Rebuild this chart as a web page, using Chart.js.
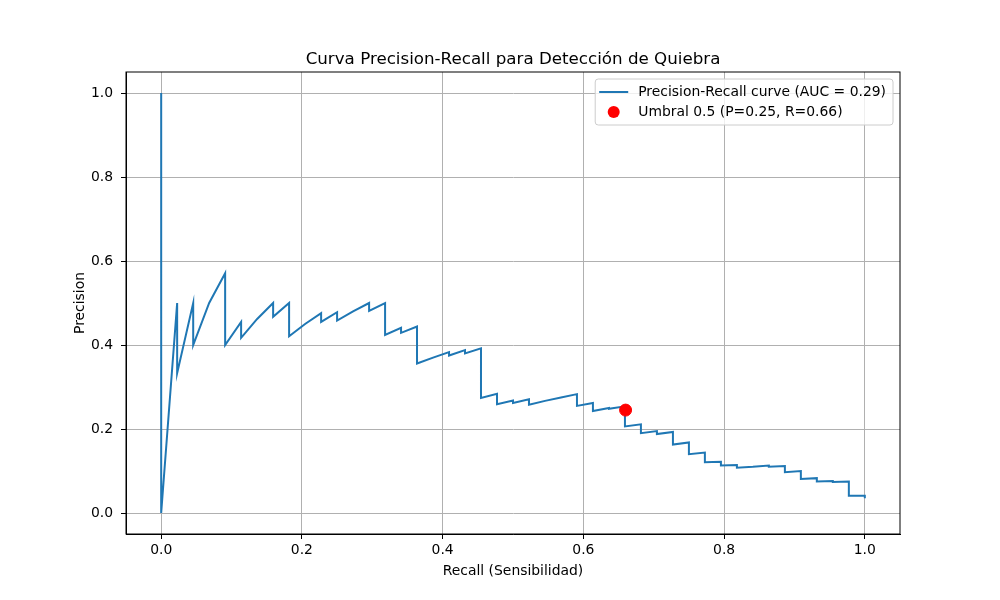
<!DOCTYPE html>
<html>
<head>
<meta charset="utf-8">
<script src="https://cdn.jsdelivr.net/npm/chart.js@4.4.0/dist/chart.umd.min.js"></script>
<style>
  html, body { margin: 0; padding: 0; background: #fff; }
  #wrap { width: 1000px; height: 600px; }
</style>
</head>
<body>
<div id="wrap"><canvas id="prChart" width="1000" height="600"></canvas></div>
<script>
// valores (recall, precision) en orden de recall creciente
const recall = [
  0, 0, 0.0227, 0.0227, 0.0455, 0.0455, 0.0682, 0.0909, 0.0909, 0.1136,
  0.1136, 0.1364, 0.1591, 0.1591, 0.1818, 0.1818, 0.2045, 0.2273, 0.2273, 0.25,
  0.25, 0.2727, 0.2955, 0.2955, 0.3182, 0.3182, 0.3409, 0.3409, 0.3636, 0.3636,
  0.3864, 0.4091, 0.4091, 0.4318, 0.4318, 0.4545, 0.4545, 0.4773, 0.4773, 0.5,
  0.5, 0.5227, 0.5227, 0.5455, 0.5682, 0.5909, 0.5909, 0.6136, 0.6136, 0.6364,
  0.6364, 0.6591, 0.6591, 0.6818, 0.6818, 0.7045, 0.7045, 0.7273, 0.7273, 0.75,
  0.75, 0.7727, 0.7727, 0.7955, 0.7955, 0.8182, 0.8182, 0.8409, 0.8636, 0.8636,
  0.8864, 0.8864, 0.9091, 0.9091, 0.9318, 0.9318, 0.9545, 0.9545, 0.9773, 0.9773,
  1.0, 1.0
];
const precision = [
  1.0, 0.0, 0.5, 0.333, 0.5, 0.4, 0.5, 0.571, 0.4, 0.455,
  0.417, 0.462, 0.5, 0.467, 0.5, 0.421, 0.45, 0.476, 0.455, 0.478,
  0.458, 0.48, 0.5, 0.481, 0.5, 0.424, 0.441, 0.429, 0.444, 0.356,
  0.37, 0.383, 0.375, 0.388, 0.38, 0.392, 0.274, 0.284, 0.259, 0.268,
  0.262, 0.271, 0.258, 0.267, 0.275, 0.283, 0.255, 0.262, 0.243, 0.25,
  0.248, 0.254, 0.206, 0.211, 0.19, 0.195, 0.188, 0.193, 0.163, 0.168,
  0.14, 0.144, 0.121, 0.122, 0.113, 0.114, 0.108, 0.11, 0.113, 0.11,
  0.112, 0.097, 0.1, 0.081, 0.083, 0.075, 0.076, 0.074, 0.075, 0.041,
  0.041, 0.035
];
const umbralRecall = [0.66];
const umbralPrecision = [0.245];
const tickValues = [0, 0.2, 0.4, 0.6, 0.8, 1.0];

const chartTitle = 'Curva Precision-Recall para Detección de Quiebra';
const curveLabel = 'Precision-Recall curve (AUC = 0.29)';
const umbralLabel = 'Umbral 0.5 (P=0.25, R=0.66)';

const FONT = 'DejaVu Sans';
const tickFont = { family: FONT, size: 13.9 };
const lineColor = '#1f77b4';
const dotColor = '#ff0000';

// marco completo, titulo y leyenda dentro del area (estilo matplotlib)
const extras = {
  id: 'extras',
  afterDatasetsDraw(chart) {
    const { ctx, chartArea: a } = chart;
    ctx.save();
    ctx.strokeStyle = '#000';
    ctx.lineWidth = 1;
    ctx.strokeRect(a.left, a.top, a.right - a.left, a.bottom - a.top);

    ctx.fillStyle = '#000';
    ctx.font = '16.7px "' + FONT + '"';
    ctx.textAlign = 'center';
    ctx.textBaseline = 'alphabetic';
    ctx.fillText(chartTitle, (a.left + a.right) / 2, 64);

    // leyenda
    ctx.font = '13.9px "' + FONT + '"';
    const textW = Math.max(ctx.measureText(curveLabel).width, ctx.measureText(umbralLabel).width);
    const boxW = textW + 50;
    const boxH = 46;
    const bx = a.right - 7 - boxW;
    const by = a.top + 7;
    ctx.beginPath();
    ctx.roundRect(bx, by, boxW, boxH, 3);
    ctx.fillStyle = 'rgba(255,255,255,0.8)';
    ctx.fill();
    ctx.strokeStyle = '#cccccc';
    ctx.stroke();

    ctx.strokeStyle = lineColor;
    ctx.lineWidth = 2;
    ctx.beginPath();
    ctx.moveTo(bx + 4, by + 13);
    ctx.lineTo(bx + 33, by + 13);
    ctx.stroke();

    ctx.fillStyle = dotColor;
    ctx.beginPath();
    ctx.arc(bx + 18.5, by + 33, 6, 0, Math.PI * 2);
    ctx.fill();

    ctx.fillStyle = '#000';
    ctx.textAlign = 'left';
    ctx.textBaseline = 'middle';
    ctx.fillText(curveLabel, bx + 43, by + 13);
    ctx.fillText(umbralLabel, bx + 43, by + 33);
    ctx.restore();
  }
};

const setTicks = axis => { axis.ticks = tickValues.map(v => ({ value: v })); };

const ctx = document.getElementById('prChart');

new Chart(ctx, {
  type: 'scatter',
  data: {
    datasets: [
      {
        label: umbralLabel,
        data: umbralRecall.map((r, i) => ({ x: r, y: umbralPrecision[i] })),
        backgroundColor: dotColor,
        borderColor: dotColor,
        pointRadius: 6,
        order: 0
      },
      {
        label: curveLabel,
        data: recall.map((r, i) => ({ x: r, y: precision[i] })),
        showLine: true,
        borderColor: lineColor,
        backgroundColor: lineColor,
        borderWidth: 2,
        pointRadius: 0,
        tension: 0,
        fill: false,
        order: 1
      }
    ]
  },
  options: {
    responsive: false,
    animation: false,
    layout: { padding: { top: 72, right: 100, bottom: 0, left: 0 } },
    plugins: {
      legend: { display: false },
      title: { display: false },
      tooltip: { enabled: false }
    },
    scales: {
      x: {
        type: 'linear',
        min: -0.05,
        max: 1.05,
        afterBuildTicks: setTicks,
        afterFit: s => { s.height = 66; },
        ticks: { color: '#000', font: tickFont, padding: 3, maxRotation: 0, autoSkip: false,
                 callback: v => v.toFixed(1) },
        grid: { color: '#b0b0b0', lineWidth: 1, tickColor: '#000', tickLength: 5 },
        border: { color: '#000' },
        title: { display: true, text: 'Recall (Sensibilidad)', color: '#000', font: tickFont,
                 padding: { top: 0, bottom: 20.6 } }
      },
      y: {
        type: 'linear',
        min: -0.05,
        max: 1.05,
        afterBuildTicks: setTicks,
        afterFit: s => { s.width = 126; },
        ticks: { color: '#000', font: tickFont, padding: 8, autoSkip: false,
                 callback: v => v.toFixed(1) },
        grid: { color: '#b0b0b0', lineWidth: 1, tickColor: '#000', tickLength: 5 },
        border: { color: '#000' },
        title: { display: true, text: 'Precision', color: '#000', font: tickFont,
                 padding: { top: 71.6, bottom: 0 } }
      }
    }
  },
  plugins: [extras]
});
</script>
</body>
</html>
